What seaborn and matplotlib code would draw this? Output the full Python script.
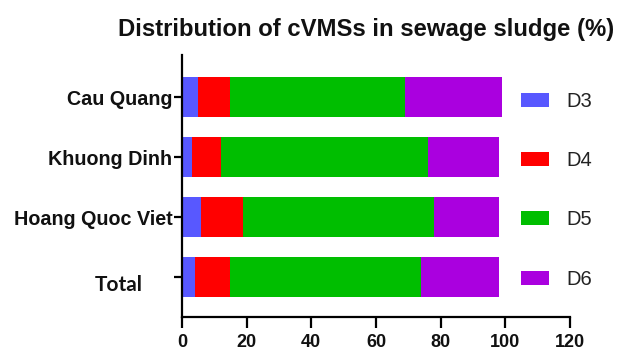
import matplotlib
matplotlib.use("Agg")
import matplotlib.pyplot as plt
import matplotlib.transforms as mtransforms
from matplotlib.patches import Patch
import seaborn as sns
import pandas as pd
import numpy as np

sites = ["Cau Quang", "Khuong Dinh", "Hoang Quoc Viet", "Total"]
series = ["D3", "D4", "D5", "D6"]
d3 = [5, 3, 6, 4]
d4 = [10, 9, 13, 11]
d5 = [54, 64, 59, 59]
d6 = [30, 22, 20, 24]
x_ticks = [0, 20, 40, 60, 80, 100, 120]
colors = {"D3": "#5858FF", "D4": "#FF0000", "D5": "#00BE00", "D6": "#AA00DF"}

sns.set_theme(style="ticks")
plt.rcParams["font.family"] = ["Liberation Sans", "DejaVu Sans"]

df = pd.DataFrame({"site": sites, "D3": d3, "D4": d4, "D5": d5, "D6": d6})
cum = df[series].cumsum(axis=1)
cum["site"] = df["site"]

fig = plt.figure(figsize=(6.26, 3.51), dpi=100)
ax = fig.add_axes([0.2907, 0.0969, 0.6198, 0.7464])

for s in reversed(series):
    sns.barplot(data=cum, x=s, y="site", order=sites, orient="h", color=colors[s],
                saturation=1, width=0.667, linewidth=0, ax=ax)

ax.set_xlim(0, 120)
ax.set_ylim(3.662, -0.705)
ax.set_xticks(x_ticks)
ax.set_xlabel("")
ax.set_ylabel("")
sns.despine(ax=ax)
for sp in ["left", "bottom"]:
    ax.spines[sp].set_linewidth(1.6)
    ax.spines[sp].set_color("black")
ax.tick_params(axis="x", length=8, width=1.6, pad=4, labelsize=13, color="black")
ax.tick_params(axis="y", length=6, width=1.6, pad=1, labelsize=14.2, color="black")
for lab in ax.get_xticklabels():
    lab.set_fontweight("bold")
    lab.set_color("#111111")
labels = ax.get_yticklabels()
for lab in labels:
    lab.set_fontweight("bold")
    lab.set_color("#111111")
tot = labels[-1]
tot.set_family(["Lato", "DejaVu Sans"])
tot.set_fontsize(15)
tot.set_transform(tot.get_transform() + mtransforms.ScaledTranslation(-30/100, -6/100, fig.dpi_scale_trans))

fig.text(0.585, 0.915, "Distribution of cVMSs in sewage sludge (%)", ha="center", va="center",
         fontsize=17.2, fontweight="bold", color="#111111")

handles = [Patch(facecolor=colors[s], edgecolor="none", label=s) for s in series]
leg = ax.legend(handles=handles, loc="upper left", bbox_to_anchor=(0.853, 0.89), frameon=False,
                fontsize=14.5, labelspacing=2.0, handlelength=1.4, handleheight=0.7,
                handletextpad=0.85, borderaxespad=0)
for t in leg.get_texts():
    t.set_color("#222222")

fig.savefig("out.png", dpi=100)
